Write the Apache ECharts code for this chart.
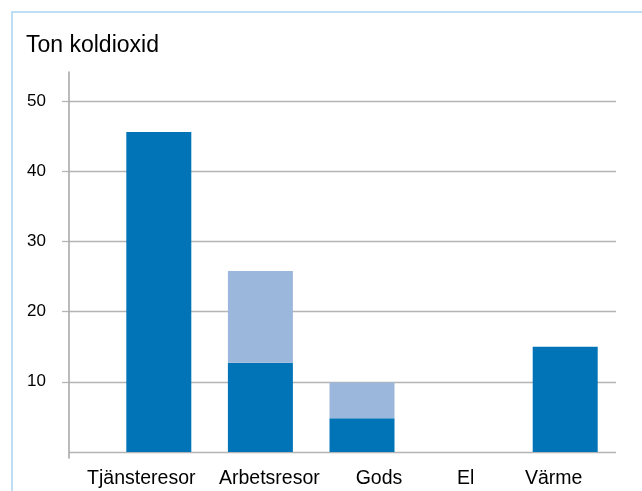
<!DOCTYPE html>
<html>
<head>
<meta charset="utf-8">
<script src="https://cdn.jsdelivr.net/npm/echarts@6/dist/echarts.min.js"></script>
<style>
  html, body { margin: 0; padding: 0; background: #fff; }
  #chart { width: 642px; height: 491px; }
</style>
</head>
<body>
<div id="chart"></div>
<script>
const categories = ["Tjänsteresor", "Arbetsresor", "Gods", "El", "Värme"];
const darkValues = [45.6, 12.7, 4.8, 0, 15.0];
const lightValues = [0, 13.1, 5.1, 0, 0];
const yTicks = [0, 10, 20, 30, 40, 50];

const chart = echarts.init(document.getElementById("chart"));

const font = "'Liberation Sans', Arial, sans-serif";
const gridColor = "#b4b4b4";

// the original labels are not evenly spread; nudge each one sideways (padding [t, r, b, l])
const labelText = { fontFamily: font, fontSize: 19.5, color: "#000" };
const labelRich = {
  c0: Object.assign({ padding: [0, 35, 0, 0] }, labelText),
  c1: Object.assign({ padding: [0, 0, 0, 18] }, labelText),
  c2: Object.assign({ padding: [0, 0, 0, 34] }, labelText),
  c3: Object.assign({ padding: [0, 0, 0, 4] }, labelText),
  c4: Object.assign({ padding: [0, 23, 0, 0] }, labelText),
};

const option = {
  animation: false,
  title: {
    text: "Ton koldioxid",
    left: 26,
    top: 34,
    padding: 0,
    textStyle: { fontFamily: font, fontSize: 23, fontWeight: "normal", color: "#000" },
  },
  graphic: [
    {
      type: "rect",
      shape: { x: 12, y: 12, width: 700, height: 600 },
      style: { fill: "none", stroke: "#a8d3f1", lineWidth: 1.5 },
      silent: true,
    },
  ],
  grid: [
    // gridlines + y labels
    { left: 69, right: 26, top: 101, bottom: 39 },
    // bars
    { left: 108, right: 26, top: 101, bottom: 39 },
    // long y axis line
    { left: 69, right: 26, top: 72, bottom: 33 },
  ],
  xAxis: [
    { gridIndex: 0, type: "value", show: false },
    {
      gridIndex: 1,
      type: "category",
      data: categories,
      axisLine: { show: false },
      axisTick: { show: false },
      axisLabel: Object.assign({
        interval: 0,
        margin: 17,
        formatter: (v, i) => `{c${i}|${v}}`,
        rich: labelRich,
      }, labelText),
    },
    { gridIndex: 2, type: "value", show: false },
  ],
  yAxis: [
    {
      gridIndex: 0,
      type: "value",
      min: yTicks[0],
      max: yTicks[yTicks.length - 1],
      interval: 10,
      axisLine: { show: false },
      axisTick: { show: true, length: 7, lineStyle: { color: gridColor, width: 1.3 } },
      axisLabel: {
        fontFamily: font,
        fontSize: 17,
        color: "#000",
        margin: 23,
        showMinLabel: false,
      },
      splitLine: { lineStyle: { color: gridColor, width: 1.3 } },
    },
    { gridIndex: 1, type: "value", min: 0, max: 50, show: false },
    {
      gridIndex: 2,
      type: "value",
      min: 0,
      max: 1,
      axisLine: { show: true, lineStyle: { color: "#a9a9a9", width: 1.6 } },
      axisTick: { show: false },
      axisLabel: { show: false },
      splitLine: { show: false },
    },
  ],
  series: [
    {
      type: "bar",
      stack: "total",
      xAxisIndex: 1,
      yAxisIndex: 1,
      barWidth: 65,
      data: darkValues,
      itemStyle: { color: "#0074b7" },
    },
    {
      type: "bar",
      stack: "total",
      xAxisIndex: 1,
      yAxisIndex: 1,
      barWidth: 65,
      data: lightValues,
      itemStyle: { color: "#9cb7dc" },
    },
  ],
};

chart.setOption(option);
window.addEventListener("resize", () => chart.resize());
</script>
</body>
</html>
